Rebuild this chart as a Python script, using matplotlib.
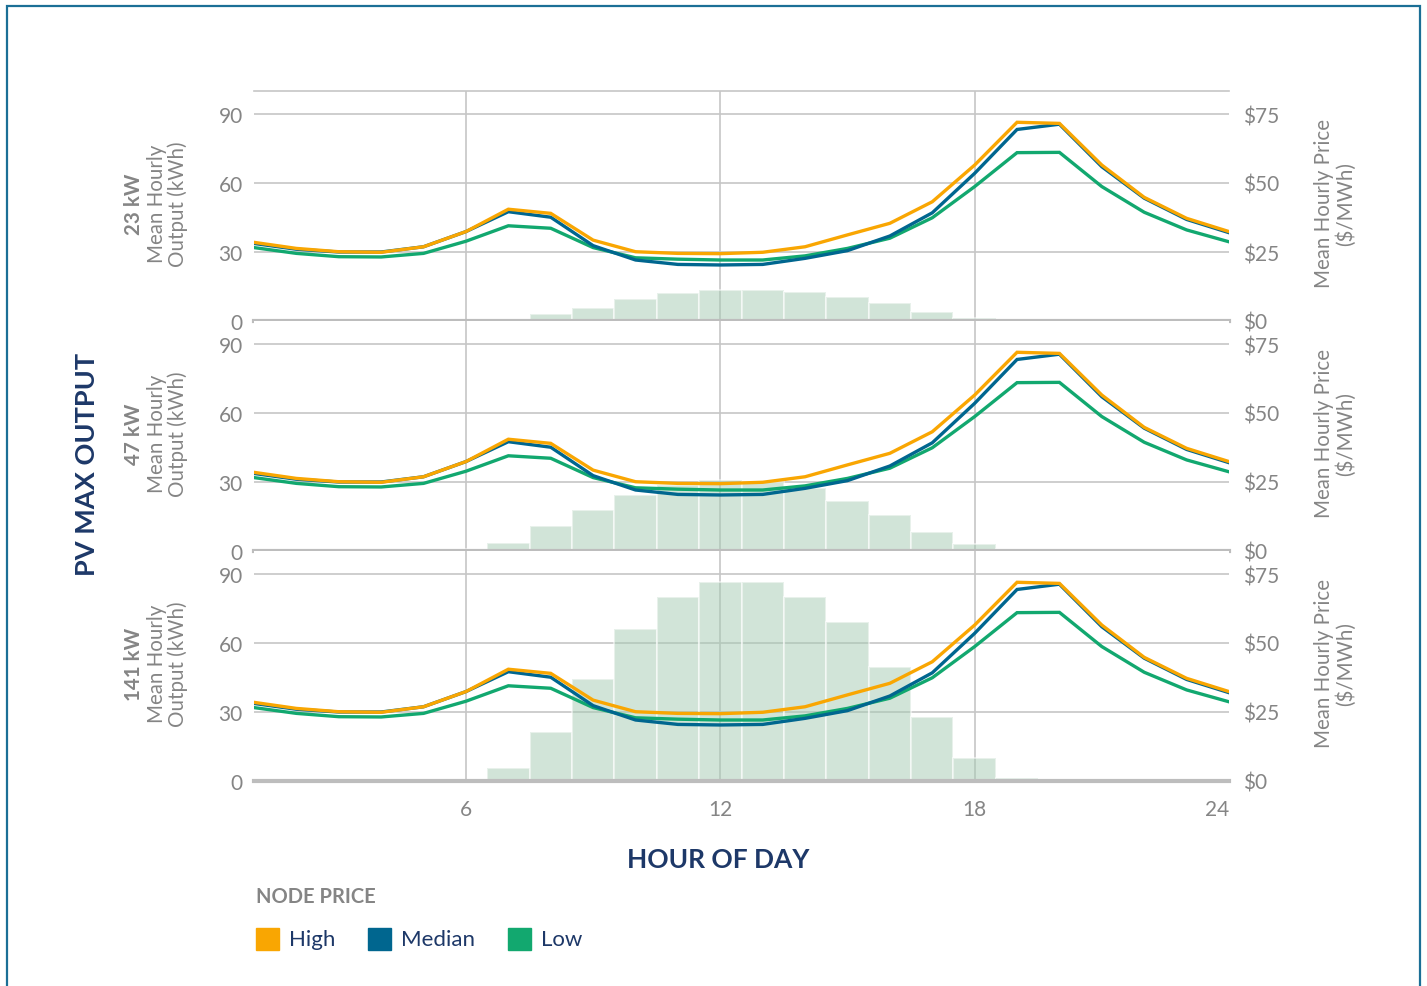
import matplotlib
matplotlib.use("Agg")
import matplotlib.pyplot as plt
from matplotlib.patches import Rectangle
import numpy as np

plt.rcParams['font.family'] = ['Lato', 'DejaVu Sans']

# ---------------- data ----------------
hours = list(range(1, 25))

price_high = [28.5, 26.3, 25.1, 24.9, 26.9, 32.4, 40.5, 39.0, 29.3, 25.1, 24.5, 24.4,
              24.9, 26.9, 31.2, 35.4, 43.2, 56.5, 72.0, 71.6, 56.5, 44.8, 37.2, 32.4]
price_median = [28.1, 26.0, 25.0, 25.0, 26.9, 32.4, 39.6, 37.6, 27.3, 22.1, 20.5, 20.3,
                20.5, 22.7, 25.5, 30.8, 39.2, 53.5, 69.4, 71.3, 55.9, 44.5, 36.8, 32.0]
price_low = [26.6, 24.5, 23.3, 23.2, 24.5, 28.9, 34.5, 33.6, 26.6, 22.9, 22.4, 22.1,
             22.1, 23.6, 26.3, 30.0, 37.4, 48.7, 61.0, 61.1, 48.7, 39.4, 33.0, 28.7]

# PV mean hourly output (kWh), hours 1..24
pv_23kw = [0, 0, 0, 0, 0, 0, 0.9, 3.0, 5.8, 9.6, 12.3, 13.3,
           13.3, 12.5, 10.4, 7.8, 4.0, 1.3, 0, 0, 0, 0, 0, 0]
pv_47kw = [0, 0, 0, 0, 0, 1.0, 3.3, 10.7, 18.0, 24.5, 28.7, 31.0,
           30.2, 27.3, 21.6, 15.5, 8.1, 2.9, 1.0, 0, 0, 0, 0, 0]
pv_141kw = [0, 0, 0, 0, 0, 0, 5.5, 21.2, 44.4, 66.0, 80.0, 86.7,
            86.7, 80.0, 69.1, 49.4, 28.0, 10.0, 1.5, 0, 0, 0, 0, 0]

panel_labels = ["23 kW", "47 kW", "141 kW"]
pv_series = [pv_23kw, pv_47kw, pv_141kw]
series_names = ["High", "Median", "Low"]
series_colors = ["#f9a602", "#00668f", "#12a86f"]
left_ticks = [0, 30, 60, 90]
right_ticks = [0, 25, 50, 75]
right_ticklabels = ["$0", "$25", "$50", "$75"]
x_ticks = [6, 12, 18, 24]

# ---------------- layout ----------------
W_PX, H_PX = 1427, 987
fig = plt.figure(figsize=(W_PX / 100, H_PX / 100), dpi=100)


def fx(x):
    return x / W_PX


def fy(y):
    return 1 - y / H_PX


GRID = "#c6c6c6"
TICK = "#858585"
NAVY = "#1d3868"
BAR = "#a5cbb3"
TS = 15  # tick label size
LS = 14.8  # side label size

left_px, right_px = 254, 1229
tops = [92, 322, 552]
ph = 230

for i, top in enumerate(tops):
    ax = fig.add_axes([fx(left_px), fy(top + ph), (right_px - left_px) / W_PX, ph / H_PX])
    ax.set_xlim(1, 24)
    ax.set_ylim(0, 100)
    for v in [30, 60, 90]:
        ax.axhline(v, color=GRID, lw=1.2, zorder=0)
    for v in [6, 12, 18]:
        ax.axvline(v, color=GRID, lw=1.2, zorder=0)
    ax.bar(hours, pv_series[i], width=1.0, color=BAR, alpha=0.5,
           edgecolor="white", linewidth=1.5, zorder=1)
    ax.axhline(0, color="#bdbdbd", lw=3, zorder=3, clip_on=False)
    for s in ["left", "right", "bottom", "top"]:
        ax.spines[s].set_visible(False)
    if i == 0:
        ax.spines["top"].set_visible(True)
        ax.spines["top"].set_color(GRID)
        ax.spines["top"].set_linewidth(1.2)
    ax.set_yticks(left_ticks)
    ax.tick_params(axis="y", length=0, pad=8, labelsize=TS, labelcolor=TICK)
    if i == 2:
        ax.set_xticks(x_ticks)
        ax.set_xticklabels([str(t) for t in x_ticks])
        ax.tick_params(axis="x", length=0, pad=13, labelsize=TS, labelcolor=TICK)
        ax.get_xticklabels()[-1].set_horizontalalignment("right")
    else:
        ax.set_xticks([])

    ax2 = ax.twinx()
    ax2.set_ylim(0, 100 * 75 / 90)
    ax2.set_xlim(1, 24)
    for name, col, vals in zip(series_names[::-1], series_colors[::-1],
                               [price_low, price_median, price_high]):
        ax2.plot(hours, vals, color=col, lw=2.4, solid_joinstyle="miter", zorder=4)
    for s in ["left", "right", "bottom", "top"]:
        ax2.spines[s].set_visible(False)
    ax2.set_yticks(right_ticks)
    ax2.set_yticklabels(right_ticklabels)
    ax2.tick_params(axis="y", length=0, pad=10, labelsize=TS, labelcolor=TICK)

    cy = top + ph / 2
    fig.text(fx(134), fy(cy - 3), panel_labels[i], rotation=90, ha="center", va="center",
             fontsize=LS, fontweight="bold", color=TICK)
    fig.text(fx(157), fy(cy - 3), "Mean Hourly", rotation=90, ha="center", va="center",
             fontsize=LS, color=TICK)
    fig.text(fx(178), fy(cy - 3), "Output (kWh)", rotation=90, ha="center", va="center",
             fontsize=LS, color=TICK)
    fig.text(fx(1324), fy(cy - 3), "Mean Hourly Price", rotation=90, ha="center", va="center",
             fontsize=LS, color=TICK)
    fig.text(fx(1346), fy(cy - 3), "($/MWh)", rotation=90, ha="center", va="center",
             fontsize=LS, color=TICK)

# big labels
fig.text(fx(87), fy(464), "PV MAX OUTPUT", rotation=90, ha="center", va="center",
         fontsize=19.5, fontweight="bold", color=NAVY)
fig.text(fx(718), fy(860), "HOUR OF DAY", ha="center", va="center",
         fontsize=19, fontweight="bold", color=NAVY)

# legend
fig.text(fx(256), fy(897), "NODE PRICE", ha="left", va="center",
         fontsize=14.5, fontweight="bold", color="#858585")
sq_x = [256, 368, 508]
for name, col, x in zip(series_names, series_colors, sq_x):
    fig.patches.append(Rectangle((fx(x), fy(951)), 23 / W_PX, 22 / H_PX,
                                 transform=fig.transFigure, color=col))
    fig.text(fx(x + 33), fy(940), name, ha="left", va="center",
             fontsize=16, color=NAVY)

# frame border
fig.patches.append(Rectangle((fx(6.5), -0.02), (1420 - 6.5) / W_PX, fy(7) + 0.02,
                             transform=fig.transFigure, fill=False,
                             edgecolor="#1b6f96", lw=1.6))

fig.savefig("out.png", dpi=100)
